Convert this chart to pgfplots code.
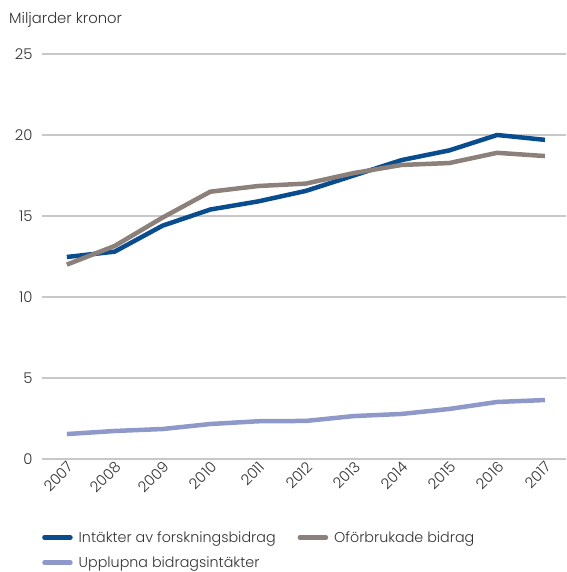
\documentclass[border=0pt]{standalone}
\usepackage{pgfplots}
\pgfplotsset{compat=1.18}
\usepackage{fontspec}
\setmainfont{Poppins}[UprightFont={* Light}]
\definecolor{cblue}{HTML}{0A4D8F}
\definecolor{cgray}{HTML}{8C807A}
\definecolor{clight}{HTML}{8E99C9}
\definecolor{cgrid}{HTML}{C8C8C8}
\definecolor{ctext}{HTML}{333333}
\begin{document}
\begin{tikzpicture}
\path[use as bounding box] (-42pt,-113pt) rectangle (524pt,459pt);
\begin{axis}[
  scale only axis,
  width=524pt, height=405pt,
  xmin=2006.48, xmax=2017.44,
  ymin=0, ymax=25,
  ytick={0,5,10,15,20,25},
  xtick={2007,...,2017},
  xticklabel style={rotate=45, anchor=north east, font=\fontsize{14.8}{14.8}\selectfont, text=ctext, inner sep=1pt},
  yticklabel style={font=\fontsize{14.8}{14.8}\selectfont, text=ctext, xshift=-6pt},
  /pgf/number format/assume math mode=true,
  /pgf/number format/1000 sep={},
  axis line style={draw=none},
  major tick length=0pt,
  ymajorgrids,
  grid style={cgrid, line width=1.2pt},
  xtick pos=bottom,
  clip=false,
  legend columns=2,
  legend cell align=left,
  legend style={at={(0,-0.173)}, anchor=north west, draw=none, fill=none, inner sep=0pt,
    font=\fontsize{14.3}{14.3}\selectfont, text=ctext,
    /tikz/every odd column/.append style={column sep=4pt},
    /tikz/every even column/.append style={column sep=20pt},
    row sep=9pt},
  legend image code/.code={\draw[#1, line width=4.5pt, line cap=round] (2pt,0pt) -- (28pt,0pt);},
  every axis plot/.append style={line width=4.5pt, line join=round},
]
\addplot[cblue] coordinates {(2007,12.47) (2008,12.8) (2009,14.4) (2010,15.4) (2011,15.9) (2012,16.55) (2013,17.5) (2014,18.45) (2015,19.05) (2016,20.0) (2017,19.7)};
\addlegendentry{Intäkter av forskningsbidrag}
\addplot[cgray] coordinates {(2007,12.0) (2008,13.15) (2009,14.9) (2010,16.5) (2011,16.85) (2012,17.0) (2013,17.65) (2014,18.15) (2015,18.27) (2016,18.9) (2017,18.7)};
\addlegendentry{Oförbrukade bidrag}
\addplot[clight] coordinates {(2007,1.54) (2008,1.73) (2009,1.85) (2010,2.16) (2011,2.33) (2012,2.35) (2013,2.65) (2014,2.78) (2015,3.09) (2016,3.52) (2017,3.64)};
\addlegendentry{Upplupna bidragsintäkter}
\end{axis}
\node[anchor=west, font=\fontsize{14.8}{14.8}\selectfont, text=ctext, inner sep=0pt] at (-33pt,439pt) {Miljarder kronor};
\end{tikzpicture}
\end{document}
